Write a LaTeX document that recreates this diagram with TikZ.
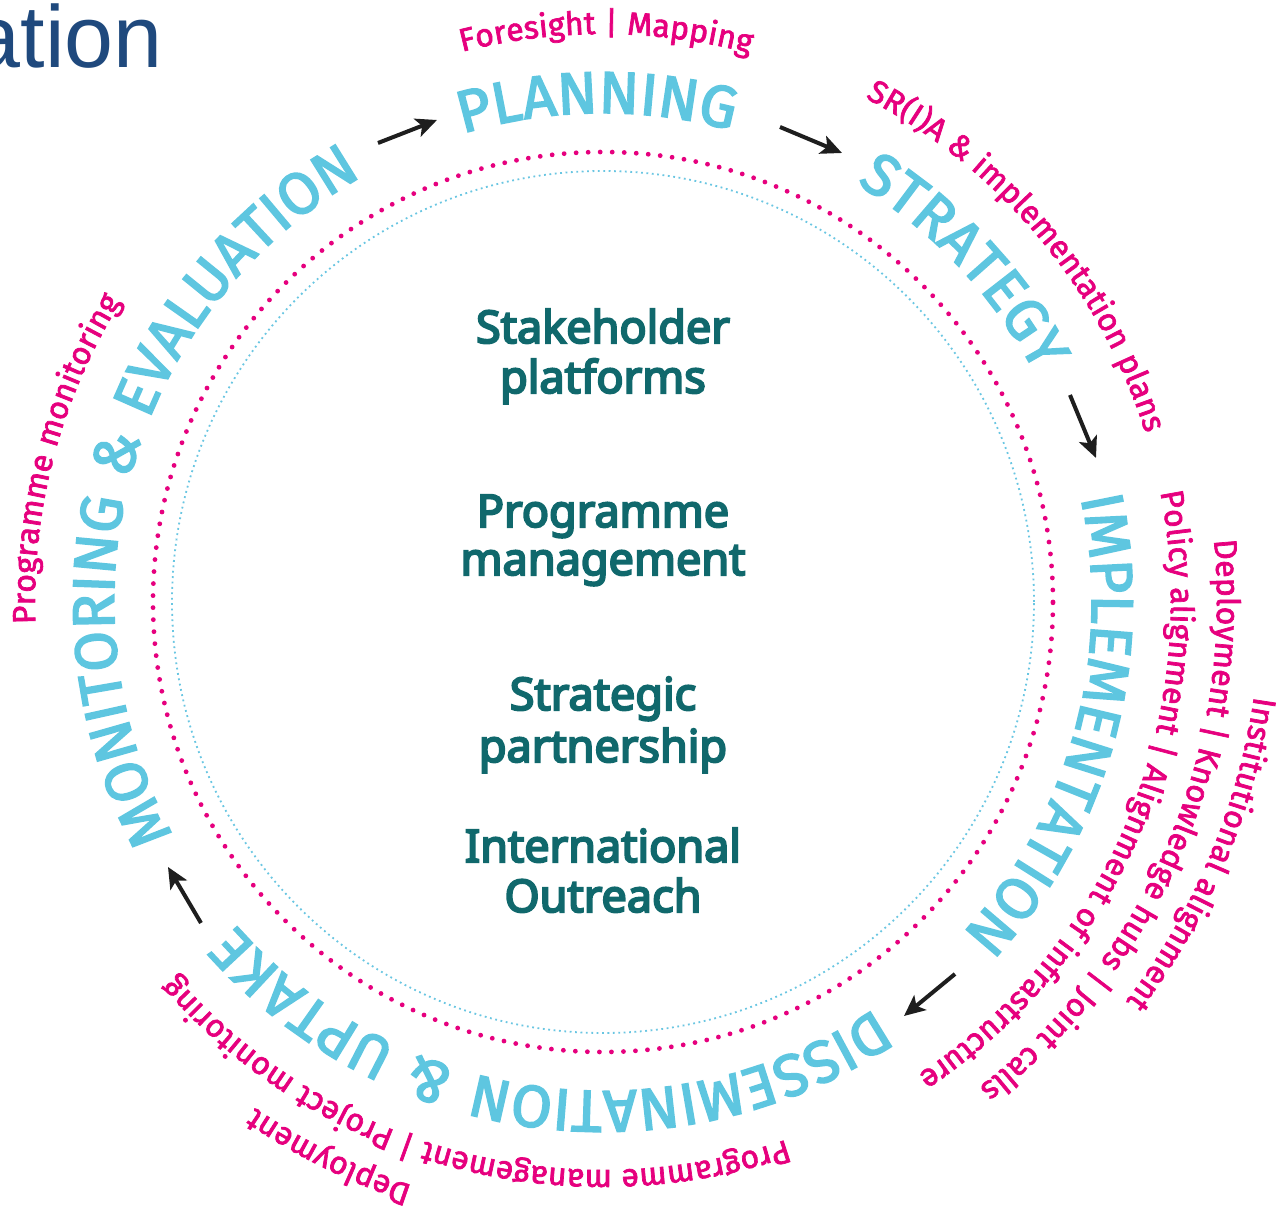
\documentclass[tikz,border=0pt]{standalone}
\usepackage{fontspec}
\setmainfont{Fira Sans}
\newfontfamily\cyanfont[LetterSpace=7.5,FakeBold=2.8]{Fira Sans}
\newfontfamily\pinkfont[LetterSpace=2,FakeBold=2.2]{Fira Sans}
\newfontfamily\centerfont[FakeBold=4.5]{Noto Sans}
\newfontfamily\titlefont{Liberation Sans}
\usetikzlibrary{decorations.text,arrows.meta}
\definecolor{cyanT}{RGB}{94,198,224}
\definecolor{pinkT}{RGB}{230,0,126}
\definecolor{tealT}{RGB}{16,104,108}
\definecolor{titleB}{RGB}{31,73,125}
\definecolor{dotB}{RGB}{105,198,226}
\definecolor{arrowK}{RGB}{30,30,30}
% #1 radius, #2 centre angle, #3 half span, #4 format, #5 colour, #6 text
\newcommand{\arctext}[6]{%
  \path[decorate,decoration={text along path,text format delimiters={[}{]},
    text color=#5,text={[#4]#6},text align=center}]
    ({#2+#3}:#1pt) arc[start angle={#2+#3},end angle={#2-#3},radius=#1pt];}
\newcommand{\bigfmt}{\cyanfont\fontsize{59}{59}\selectfont}
\newcommand{\smallfmt}{\pinkfont\fontsize{32}{32}\selectfont}
\tikzset{
  ctext/.style={text=tealT,font=\centerfont\fontsize{45}{50}\selectfont,anchor=base,inner sep=0pt},
  flow/.style={-{Stealth[length=21pt,width=19pt,inset=5pt]},line width=4pt,draw=arrowK},
}
\begin{document}
\begin{tikzpicture}[x=1pt,y=1pt]
\useasboundingbox (-603,-607) rectangle (675,602);
\fill[white] (-603,-607) rectangle (675,602);
% title fragment
\node[anchor=base east,inner sep=0pt,text=titleB,font=\titlefont\fontsize{88}{88}\selectfont] (title) at (-440,534) {ation};
% dotted rings
\draw[pinkT,line width=4.8pt,line cap=round,dash pattern=on 0pt off 12.03pt] (0,0) circle[radius=450pt];
\draw[dotB,line width=1.8pt,dash pattern=on 1.8pt off 3.6pt] (0,0) circle[radius=431pt];
% stage labels
\arctext{489}{90.7}{40}{\bigfmt}{cyanT}{PLANNING}
\arctext{489}{43.3}{40}{\bigfmt}{cyanT}{STRATEGY}
\arctext{489}{-15.2}{60}{\bigfmt}{cyanT}{IMPLEMENTATION}
\arctext{489}{-97.5}{70}{\bigfmt}{cyanT}{DISSEMINATION {\&} UPTAKE}
\arctext{489}{164}{70}{\bigfmt}{cyanT}{MONITORING {\&} EVALUATION}
% activity labels
\arctext{568}{89.7}{40}{\smallfmt}{pinkT}{Foresight | Mapping}
\arctext{568}{39.9}{45}{\smallfmt}{pinkT}{SR(I)A {\&} implementation plans}
\arctext{568}{-22.6}{60}{\smallfmt}{pinkT}{Policy alignment | Alignment of infrastructure}
\arctext{614}{-23.2}{60}{\smallfmt}{pinkT}{Deployment | Knowledge hubs | Joint calls}
\arctext{658}{-22.8}{40}{\smallfmt}{pinkT}{Institutional alignment}
\arctext{568}{-105.05}{60}{\smallfmt}{pinkT}{Programme management | Project monitoring}
\arctext{614}{-116.3}{30}{\smallfmt}{pinkT}{Deployment}
\arctext{568}{165.15}{40}{\smallfmt}{pinkT}{Programme monitoring}
% centre texts
\node[ctext] (sp1) at (0,259) {Stakeholder};
\node[ctext] (sp2) at (0,209) {platforms};
\node[ctext] (pm1) at (0,75) {Programme};
\node[ctext] (pm2) at (0,27) {management};
\node[ctext] (st1) at (0,-108) {Strategic};
\node[ctext] (st2) at (0,-160) {partnership};
\node[ctext] (io1) at (0,-260) {International};
\node[ctext] (io2) at (0,-310) {Outreach};
% cycle arrows
\coordinate (a1s) at (-225,459); \coordinate (a1e) at (-166,482);
\coordinate (a2s) at (177,475);  \coordinate (a2e) at (239,449);
\coordinate (a3s) at (467,207);  \coordinate (a3e) at (493,144);
\coordinate (a4s) at (352,-372); \coordinate (a4e) at (301,-414);
\coordinate (a5s) at (-402,-321); \coordinate (a5e) at (-435,-265);
\draw[flow] (a1s) -- (a1e);
\draw[flow] (a2s) -- (a2e);
\draw[flow] (a3s) -- (a3e);
\draw[flow] (a4s) -- (a4e);
\draw[flow] (a5s) -- (a5e);
\end{tikzpicture}
\end{document}
